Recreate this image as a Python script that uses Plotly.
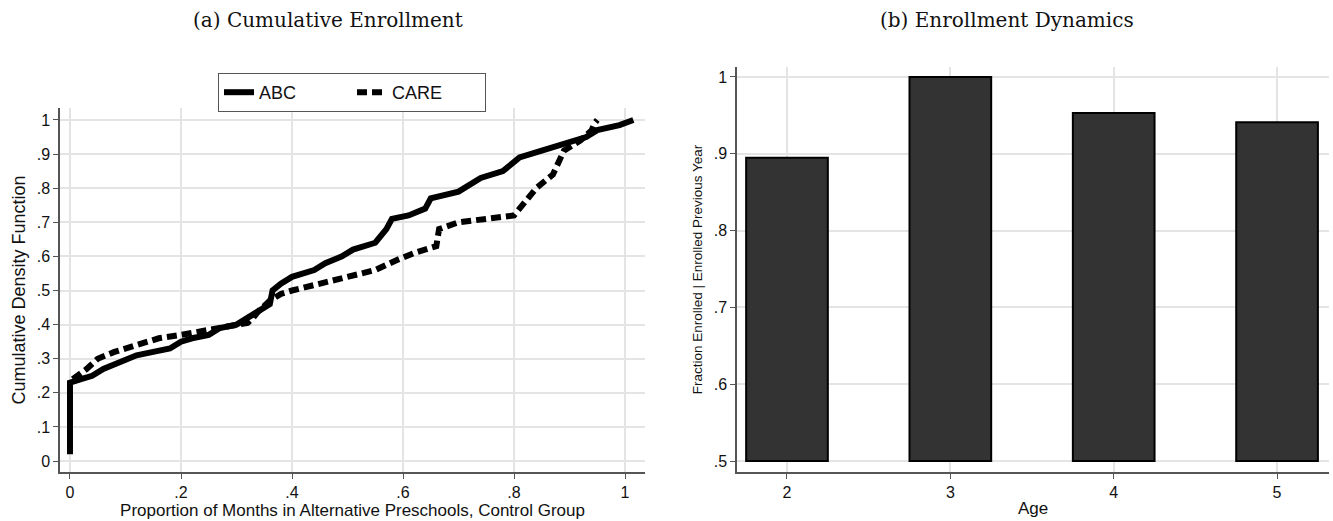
import plotly.graph_objects as go

# ---- Panel (a): cumulative distribution of months in alternative preschools ----
abc_x = [0, 0, 0.02, 0.04, 0.06, 0.09, 0.12, 0.15, 0.18, 0.20, 0.22, 0.25, 0.27, 0.30, 0.32, 0.34,
         0.36, 0.365, 0.38, 0.40, 0.44, 0.46, 0.49, 0.51, 0.55, 0.56, 0.57, 0.58, 0.61, 0.64, 0.65,
         0.70, 0.74, 0.78, 0.81, 0.85, 0.89, 0.93, 0.95, 0.99, 1.015]
abc_y = [0.02, 0.23, 0.24, 0.25, 0.27, 0.29, 0.31, 0.32, 0.33, 0.35, 0.36, 0.37, 0.39, 0.40, 0.42, 0.44,
         0.46, 0.50, 0.52, 0.54, 0.56, 0.58, 0.60, 0.62, 0.64, 0.66, 0.68, 0.71, 0.72, 0.74, 0.77,
         0.79, 0.83, 0.85, 0.89, 0.91, 0.93, 0.95, 0.97, 0.985, 1.0]

care_x = [0.005, 0.03, 0.05, 0.08, 0.12, 0.16, 0.20, 0.25, 0.28, 0.30, 0.32, 0.33, 0.34, 0.36, 0.38,
          0.40, 0.45, 0.52, 0.55, 0.59, 0.62, 0.66, 0.665, 0.70, 0.80, 0.82, 0.84, 0.87, 0.89, 0.92,
          0.94, 0.945, 0.95]
care_y = [0.24, 0.27, 0.30, 0.32, 0.34, 0.36, 0.37, 0.385, 0.39, 0.40, 0.405, 0.42, 0.44, 0.47, 0.49,
          0.50, 0.52, 0.545, 0.56, 0.59, 0.61, 0.63, 0.68, 0.70, 0.72, 0.76, 0.80, 0.84, 0.91, 0.94,
          0.97, 0.99, 1.0]

cdf_xticks = [0, 0.2, 0.4, 0.6, 0.8, 1]
cdf_xlabels = ["0", ".2", ".4", ".6", ".8", "1"]
cdf_yticks = [0, 0.1, 0.2, 0.3, 0.4, 0.5, 0.6, 0.7, 0.8, 0.9, 1]
cdf_ylabels = ["0", ".1", ".2", ".3", ".4", ".5", ".6", ".7", ".8", ".9", "1"]

# ---- Panel (b): enrollment dynamics ----
ages = [2, 3, 4, 5]
frac_enrolled = [0.895, 1.0, 0.953, 0.941]
bar_base = 0.5
bar_yticks = [0.5, 0.6, 0.7, 0.8, 0.9, 1.0]
bar_ylabels = [".5", ".6", ".7", ".8", ".9", "1"]

W, H = 1333, 521
SANS = "Liberation Sans Narrow, Liberation Sans, Arial"
TICKFONT = dict(family=SANS, size=16, color="#111")
GRID = "#e4e4e4"
AXC = "#555"

fig = go.Figure()
fig.add_trace(go.Scatter(x=abc_x, y=abc_y, mode="lines", name="ABC",
                         line=dict(color="black", width=6), xaxis="x", yaxis="y"))
fig.add_trace(go.Scatter(x=care_x, y=care_y, mode="lines", name="CARE",
                         line=dict(color="black", width=6, dash="10px,5px"), xaxis="x", yaxis="y"))
fig.add_trace(go.Bar(x=ages, y=[v - bar_base for v in frac_enrolled], base=bar_base, width=0.5,
                     marker=dict(color="#333333", line=dict(color="black", width=2)),
                     showlegend=False, xaxis="x2", yaxis="y2"))

common = dict(showline=True, linecolor=AXC, linewidth=1.5, ticks="outside", ticklen=5,
              tickcolor=AXC, showgrid=True, gridcolor=GRID, gridwidth=2, zeroline=False,
              tickfont=TICKFONT)

fig.update_layout(
    width=W, height=H, margin=dict(l=0, r=0, t=0, b=0),
    plot_bgcolor="white", paper_bgcolor="white",
    xaxis=dict(domain=[60 / W, 645 / W], range=[-0.018, 1.036], tickvals=cdf_xticks,
               ticktext=cdf_xlabels, anchor="y",
               title=dict(text="Proportion of Months in Alternative Preschools, Control Group",
                          font=dict(family=SANS, size=17, color="#111"), standoff=2),
               **common),
    yaxis=dict(domain=[1 - 472 / H, 1 - 108 / H], range=[-0.032, 1.035], tickvals=cdf_yticks,
               ticktext=cdf_ylabels, anchor="x",
               title=dict(text="Cumulative Density Function",
                          font=dict(family=SANS, size=18, color="#111"), standoff=6),
               **common),
    xaxis2=dict(domain=[737 / W, 1329 / W], range=[1.694, 5.318], tickvals=ages,
                ticktext=[str(a) for a in ages], anchor="y2",
                title=dict(text="Age", font=dict(family=SANS, size=17, color="#111"), standoff=2),
                **common),
    yaxis2=dict(domain=[1 - 472 / H, 1 - 67 / H], range=[0.4857, 1.013], tickvals=bar_yticks,
                ticktext=bar_ylabels, anchor="x2",
                title=dict(text="Fraction Enrolled | Enrolled Previous Year",
                           font=dict(family=SANS, size=13.5, color="#111"), standoff=8),
                **common),
    legend=dict(orientation="h", x=218 / W, y=1 - 73 / H, xanchor="left", yanchor="top",
                bordercolor="#555", borderwidth=1, bgcolor="white",
                font=dict(family=SANS, size=18, color="#111"),
                entrywidth=88, entrywidthmode="pixels"),
    annotations=[
        dict(text="(a) Cumulative Enrollment", x=328 / W, y=1 - 20 / H, xref="paper", yref="paper",
             xanchor="center", yanchor="middle", showarrow=False,
             font=dict(family="DejaVu Serif, Liberation Serif", size=20, color="#111")),
        dict(text="(b) Enrollment Dynamics", x=1007 / W, y=1 - 20 / H, xref="paper", yref="paper",
             xanchor="center", yanchor="middle", showarrow=False,
             font=dict(family="DejaVu Serif, Liberation Serif", size=20, color="#111")),
    ],
)

fig.write_html("out.html", config={"displayModeBar": False},
               post_script="document.body.style.margin='0px';")
